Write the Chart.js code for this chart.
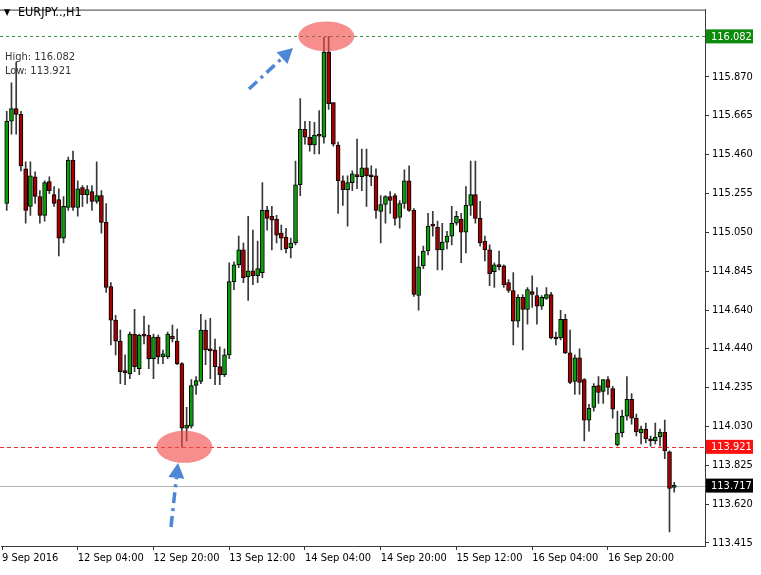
<!DOCTYPE html>
<html>
<head>
<meta charset="utf-8">
<script src="https://cdn.jsdelivr.net/npm/chart.js@4.4.1/dist/chart.umd.min.js"></script>
<style>
  body { margin: 0; background: #fff; }
  canvas { display: block; }
</style>
</head>
<body>
<canvas id="eurjpy" width="761" height="575"></canvas>
<script>
// EURJPY H1 candles (index 0 = first visible candle)
const opens = [
  115.202, 115.635, 115.702, 115.671, 115.385, 115.187, 115.343, 115.239, 115.140, 115.317,
  115.249, 115.223, 115.020, 115.181, 115.431, 115.181, 115.286, 115.249, 115.265, 115.213,
  115.244, 115.103, 114.765, 114.588, 114.478, 114.322, 114.306, 114.515, 114.333, 114.510,
  114.510, 114.385, 114.499, 114.395, 114.395, 114.504, 114.478, 114.359, 114.020, 114.030,
  114.244, 114.265, 114.536, 114.431, 114.431, 114.343, 114.301, 114.405, 114.791, 114.879,
  114.958, 114.817, 114.848, 114.822, 114.838, 115.166, 115.135, 115.119, 115.046, 115.025,
  114.968, 114.994, 115.301, 115.593, 115.551, 115.510, 115.562, 115.551, 115.999, 115.734,
  115.510, 115.322, 115.275, 115.312, 115.354, 115.343, 115.390, 115.348, 115.348, 115.161,
  115.197, 115.239, 115.244, 115.129, 115.202, 115.322, 115.166, 114.718, 114.874, 114.952,
  115.088, 115.077, 114.958, 114.999, 115.030, 115.098, 115.119, 115.051, 115.192, 115.249,
  115.124, 115.004, 114.958, 114.843, 114.874, 114.874, 114.786, 114.744, 114.583, 114.708,
  114.645, 114.739, 114.718, 114.661, 114.702, 114.723, 114.499, 114.494, 114.593, 114.416,
  114.265, 114.390, 114.275, 114.062, 114.129, 114.244, 114.213, 114.275, 114.228, 113.931,
  113.994, 114.083, 114.171, 114.072, 113.994, 114.015, 113.963, 113.952, 113.973, 113.999,
  113.895, 113.708
];
const highs = [
  115.687, 115.838, 115.947, 115.687, 115.421, 115.421, 115.369, 115.270, 115.322, 115.343,
  115.291, 115.280, 115.239, 115.447, 115.478, 115.322, 115.296, 115.296, 115.296, 115.421,
  115.270, 115.202, 114.786, 114.614, 114.536, 114.405, 114.525, 114.645, 114.515, 114.609,
  114.562, 114.515, 114.510, 114.431, 114.525, 114.562, 114.541, 114.364, 114.129, 114.275,
  114.291, 114.619, 114.588, 114.598, 114.489, 114.447, 114.437, 114.890, 114.895, 115.030,
  114.994, 115.135, 115.062, 115.004, 115.312, 115.187, 115.187, 115.140, 115.088, 115.072,
  115.020, 115.426, 115.754, 115.635, 115.635, 115.629, 115.692, 116.077, 116.082, 115.734,
  115.525, 115.348, 115.348, 115.374, 115.541, 115.489, 115.489, 115.400, 115.385, 115.244,
  115.244, 115.265, 115.254, 115.218, 115.379, 115.400, 115.176, 114.926, 114.978, 115.150,
  115.161, 115.109, 115.098, 115.056, 115.187, 115.161, 115.150, 115.291, 115.426, 115.426,
  115.213, 115.030, 114.984, 114.890, 114.952, 114.879, 114.801, 114.838, 114.723, 114.723,
  114.760, 114.822, 114.760, 114.718, 114.760, 114.734, 114.525, 114.640, 114.619, 114.536,
  114.405, 114.437, 114.280, 114.145, 114.254, 114.291, 114.275, 114.291, 114.239, 114.109,
  114.114, 114.291, 114.202, 114.093, 114.030, 114.046, 113.978, 114.046, 114.015, 114.062,
  113.900, 113.734
];
const lows = [
  115.166, 115.567, 115.567, 115.374, 115.098, 115.140, 115.202, 115.098, 115.109, 115.254,
  115.187, 114.926, 114.994, 115.166, 115.166, 115.135, 115.187, 115.202, 115.166, 115.202,
  115.046, 114.734, 114.458, 114.405, 114.254, 114.249, 114.280, 114.317, 114.301, 114.463,
  114.333, 114.280, 114.359, 114.359, 114.385, 114.473, 114.353, 113.921, 113.952, 114.020,
  114.197, 114.254, 114.353, 114.280, 114.249, 114.249, 114.291, 114.385, 114.749, 114.864,
  114.786, 114.692, 114.775, 114.786, 114.812, 115.062, 114.958, 114.994, 114.958, 114.942,
  114.916, 114.984, 115.244, 115.515, 115.478, 115.463, 115.463, 115.520, 115.697, 115.504,
  115.150, 115.192, 115.083, 115.270, 115.280, 115.270, 115.187, 115.296, 115.124, 114.994,
  115.098, 115.150, 115.088, 115.072, 115.176, 115.161, 114.713, 114.640, 114.859, 114.931,
  115.030, 114.853, 114.853, 114.963, 114.984, 115.088, 114.890, 114.942, 115.140, 115.098,
  114.978, 114.900, 114.770, 114.760, 114.853, 114.760, 114.734, 114.458, 114.551, 114.431,
  114.567, 114.655, 114.567, 114.645, 114.697, 114.489, 114.458, 114.484, 114.411, 114.254,
  114.197, 114.197, 113.952, 114.004, 114.109, 114.150, 114.150, 114.197, 114.072, 113.926,
  113.973, 114.062, 114.041, 113.978, 113.937, 113.942, 113.925, 113.937, 113.925, 113.859,
  113.473, 113.682
];
const closes = [
  115.635, 115.702, 115.671, 115.400, 115.166, 115.348, 115.239, 115.140, 115.312, 115.270,
  115.202, 115.020, 115.187, 115.431, 115.181, 115.280, 115.249, 115.275, 115.213, 115.244,
  115.103, 114.760, 114.588, 114.478, 114.317, 114.312, 114.515, 114.343, 114.510, 114.504,
  114.385, 114.499, 114.395, 114.411, 114.515, 114.489, 114.359, 114.020, 114.036, 114.244,
  114.270, 114.536, 114.431, 114.426, 114.343, 114.301, 114.405, 114.791, 114.879, 114.958,
  114.812, 114.848, 114.822, 114.859, 115.166, 115.124, 115.114, 115.036, 115.020, 114.963,
  114.994, 115.301, 115.593, 115.551, 115.510, 115.562, 115.556, 115.999, 115.728, 115.515,
  115.322, 115.275, 115.312, 115.359, 115.343, 115.390, 115.348, 115.343, 115.166, 115.197,
  115.239, 115.218, 115.124, 115.202, 115.322, 115.166, 114.723, 114.869, 114.952, 115.083,
  115.083, 114.958, 114.999, 115.030, 115.098, 115.135, 115.051, 115.192, 115.249, 115.124,
  114.994, 114.958, 114.833, 114.879, 114.870, 114.775, 114.744, 114.583, 114.708, 114.645,
  114.749, 114.723, 114.661, 114.708, 114.723, 114.494, 114.489, 114.593, 114.416, 114.260,
  114.390, 114.260, 114.062, 114.124, 114.239, 114.208, 114.275, 114.234, 114.119, 113.994,
  114.083, 114.171, 114.072, 113.999, 114.015, 113.963, 113.952, 113.973, 113.999, 113.900,
  113.702, 113.717
];

// time axis labels and the candle index each one sits on
const timeLabels = ['9 Sep 2016', '12 Sep 04:00', '12 Sep 20:00', '13 Sep 12:00', '14 Sep 04:00',
                    '14 Sep 20:00', '15 Sep 12:00', '16 Sep 04:00', '16 Sep 20:00'];
const labelIdx = [-1, 15, 31, 47, 63, 79, 95, 111, 127];

// price scale labels
const priceTicks = [115.870, 115.665, 115.460, 115.255, 115.050, 114.845, 114.640,
                    114.440, 114.235, 114.030, 113.825, 113.620, 113.415];

const highLevel = 116.082;
const lowLevel = 113.921;
const lastPrice = 113.717;
const highIdx = 67.5;   // between the two top candles
const lowIdx = 37.5;

const FONT = '"DejaVu Sans Condensed", "Liberation Sans", sans-serif';
const GREEN = '#0b9e0b';
const RED = '#a30000';

let bodies = opens.map((o, i) => ({x: i, y: [o, closes[i]]}));
let wicks = lows.map((l, i) => ({x: i, y: [l, highs[i]]}));
let bodyColors = opens.map((o, i) => closes[i] >= o ? GREEN : RED);

function arrow(ctx, x1, y1, x2, y2) {
    let ang = Math.atan2(y2 - y1, x2 - x1);
    let head = 15;
    let bx = x2 - Math.cos(ang) * head, by = y2 - Math.sin(ang) * head;
    ctx.save();
    ctx.strokeStyle = '#4d87d6';
    ctx.fillStyle = '#4d87d6';
    ctx.lineWidth = 3.5;
    ctx.setLineDash([11, 5, 3, 5]);
    ctx.beginPath();
    ctx.moveTo(x1, y1);
    ctx.lineTo(bx, by);
    ctx.stroke();
    ctx.setLineDash([]);
    ctx.beginPath();
    ctx.moveTo(x2, y2);
    ctx.lineTo(bx + Math.cos(ang + Math.PI / 2) * 8, by + Math.sin(ang + Math.PI / 2) * 8);
    ctx.lineTo(bx + Math.cos(ang - Math.PI / 2) * 8, by + Math.sin(ang - Math.PI / 2) * 8);
    ctx.closePath();
    ctx.fill();
    ctx.restore();
}

function priceBox(ctx, y, text, bg, x) {
    ctx.save();
    ctx.fillStyle = bg;
    ctx.fillRect(x + 1, y - 7, 47, 14);
    ctx.fillStyle = '#fff';
    ctx.font = '11px ' + FONT;
    ctx.textBaseline = 'middle';
    ctx.fillText(text, x + 6, y + 0.5);
    ctx.restore();
}

const overlay = {
    id: 'overlay',
    beforeDatasetsDraw(chart) {
        let ctx = chart.ctx, a = chart.chartArea, ys = chart.scales.y;
        ctx.save();
        ctx.lineWidth = 1;
        let yh = Math.round(ys.getPixelForValue(highLevel)) + 0.5;
        ctx.strokeStyle = '#2f9a2f';
        ctx.setLineDash([3, 3]);
        ctx.beginPath(); ctx.moveTo(0, yh); ctx.lineTo(a.right, yh); ctx.stroke();
        let yl = Math.round(ys.getPixelForValue(lowLevel)) + 0.5;
        ctx.strokeStyle = '#f52a2a';
        ctx.setLineDash([4, 3]);
        ctx.beginPath(); ctx.moveTo(0, yl); ctx.lineTo(a.right, yl); ctx.stroke();
        let yb = Math.round(ys.getPixelForValue(lastPrice)) + 0.5;
        ctx.strokeStyle = '#b4b4b4';
        ctx.setLineDash([]);
        ctx.beginPath(); ctx.moveTo(0, yb); ctx.lineTo(a.right, yb); ctx.stroke();
        ctx.restore();
    },
    afterDatasetsDraw(chart) {
        let ctx = chart.ctx, xs = chart.scales.x, ys = chart.scales.y;
        ctx.save();
        ctx.fillStyle = 'rgba(240, 72, 72, 0.62)';
        ctx.beginPath();
        ctx.ellipse(xs.getPixelForValue(highIdx), ys.getPixelForValue(highLevel), 28, 15, 0, 0, Math.PI * 2);
        ctx.fill();
        ctx.beginPath();
        ctx.ellipse(xs.getPixelForValue(lowIdx), ys.getPixelForValue(lowLevel), 28, 16, 0, 0, Math.PI * 2);
        ctx.fill();
        ctx.restore();

        arrow(ctx, 249, 89, 293, 48);
        arrow(ctx, 171, 527, 178, 463);
    },
    afterDraw(chart) {
        let ctx = chart.ctx, a = chart.chartArea, ys = chart.scales.y;
        ctx.save();
        // frame top line
        ctx.strokeStyle = '#3c3c3c';
        ctx.lineWidth = 1;
        ctx.beginPath(); ctx.moveTo(0, a.top + 0.5); ctx.lineTo(a.right, a.top + 0.5); ctx.stroke();

        ctx.fillStyle = '#000';
        ctx.font = '9px ' + FONT;
        ctx.textBaseline = 'middle';
        ctx.fillText('\u25BC', 4, 13);
        ctx.font = '12.5px ' + FONT;
        ctx.fillText('EURJPY..,H1', 18, 13);
        ctx.fillStyle = '#333';
        ctx.font = '11px ' + FONT;
        ctx.fillText('High: 116.082', 5, 57);
        ctx.fillText('Low: 113.921', 5, 71);
        ctx.restore();

        priceBox(ctx, ys.getPixelForValue(highLevel), highLevel.toFixed(3), '#0c8a0c', a.right);
        priceBox(ctx, ys.getPixelForValue(lowLevel), lowLevel.toFixed(3), '#ff1010', a.right);
        priceBox(ctx, ys.getPixelForValue(lastPrice), lastPrice.toFixed(3), '#000', a.right);
    }
};

let chart = new Chart(document.getElementById('eurjpy'), {
    type: 'bar',
    data: {
        datasets: [
            {
                label: 'body',
                data: bodies,
                backgroundColor: bodyColors,
                borderColor: '#000',
                borderWidth: 1,
                borderSkipped: false,
                barThickness: 4,
                minBarLength: 2,
                grouped: false
            },
            {
                label: 'wick',
                data: wicks,
                backgroundColor: '#383838',
                borderWidth: 0,
                barThickness: 1,
                grouped: false
            }
        ]
    },
    plugins: [overlay],
    options: {
        responsive: false,
        animation: false,
        layout: { padding: { top: 4, left: 0, right: 0, bottom: 0 } },
        plugins: {
            legend: { display: false },
            tooltip: { enabled: false }
        },
        scales: {
            x: {
                type: 'linear',
                offset: false,
                min: -1.05,
                max: 147.5,
                afterBuildTicks: s => { s.ticks = labelIdx.map(v => ({value: v})); },
                afterFit: s => { s.height = 29; },
                ticks: {
                    autoSkip: false,
                    maxRotation: 0,
                    align: 'start',
                    padding: 2,
                    color: '#000',
                    font: { size: 11, family: FONT },
                    callback: (v, i) => timeLabels[i]
                },
                grid: { offset: false, drawOnChartArea: false, tickLength: 4, color: '#333' },
                border: { color: '#3c3c3c' }
            },
            y: {
                position: 'right',
                min: 113.399,
                max: 116.223,
                afterBuildTicks: s => { s.ticks = priceTicks.map(v => ({value: v})); },
                afterFit: s => { s.width = 56; },
                ticks: {
                    padding: 3,
                    color: '#000',
                    font: { size: 11, family: FONT },
                    callback: v => v.toFixed(3)
                },
                grid: { drawOnChartArea: false, tickLength: 4, color: '#333' },
                border: { color: '#3c3c3c' }
            }
        }
    }
});
</script>
</body>
</html>
